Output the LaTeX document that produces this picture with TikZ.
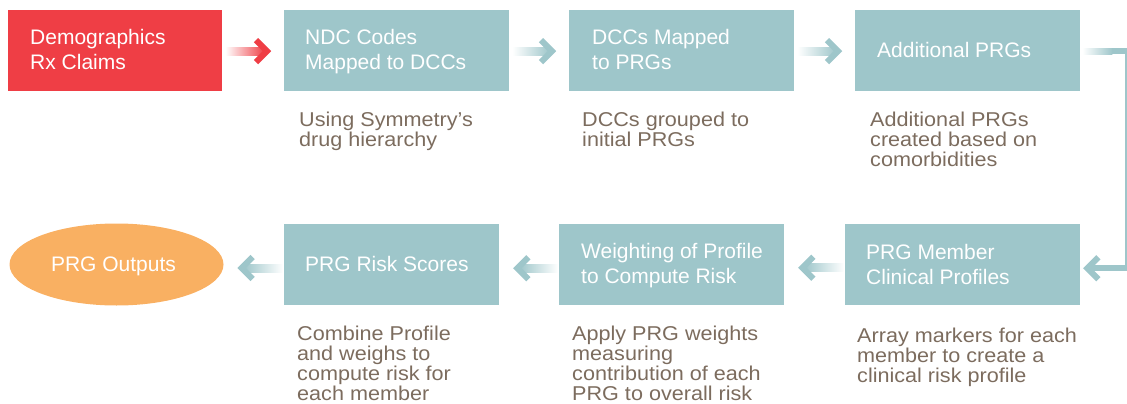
\documentclass[tikz,border=0pt]{standalone}
\usepackage{fontspec}
\setmainfont{Liberation Sans}
\newfontfamily\descfont[FakeStretch=1.08]{Liberation Sans}
\usetikzlibrary{shapes.geometric,calc}

\definecolor{cRed}{HTML}{EF3E45}
\definecolor{cTeal}{HTML}{9EC6CA}
\definecolor{cOrange}{HTML}{F9B062}
\definecolor{cText}{HTML}{7C6C5E}

% right-pointing arrow: faded shaft and open chevron head
\newcommand\rarrow[4]{% #1 from, #2 to, #3 colour, #4 vertical offset
  \coordinate (s) at ($(#1.east)+(3,#4)$);
  \coordinate (t) at ($(#2.west)+(-13,#4)$);
  \shade[left color=white, right color=#3] ($(s)+(0,-4)$) rectangle ($(t)+(-6,4)$);
  \draw[#3, line width=6pt, miter limit=10] ($(t)+(-15,-11)$) -- ($(t)+(-4,0)$) -- ($(t)+(-15,11)$);
}
% left-pointing arrow
\newcommand\larrow[4]{% #1 from, #2 to, #3 colour, #4 vertical offset
  \coordinate (s) at ($(#1.west)+(-1,#4)$);
  \coordinate (t) at ($(#2.east)+(14,#4)$);
  \shade[left color=#3, right color=white] ($(t)+(6,-4)$) rectangle ($(s)+(0,4)$);
  \draw[#3, line width=6pt, miter limit=10] ($(t)+(15,-11)$) -- ($(t)+(4,0)$) -- ($(t)+(15,11)$);
}

\begin{document}
\begin{tikzpicture}[x=1pt,y=-1pt,
  stepbox/.style={fill=cTeal, inner sep=0pt, minimum height=81pt, anchor=north west},
  % captions are placed by the baseline of their last line
  boxtxt/.style={anchor=base west, align=left, inner sep=0pt, text=white,
    font=\fontsize{21}{25}\selectfont},
  desc/.style={anchor=base west, align=left, inner sep=0pt, text=cText,
    font=\descfont\fontsize{20}{20}\selectfont}]
\useasboundingbox (0,0) rectangle (1127,404);

% top row
\node[stepbox, fill=cRed, minimum width=214pt] (red) at (8,10) {};
\node[stepbox, minimum width=225pt] (ndc) at (284,10) {};
\node[stepbox, minimum width=225pt] (dcc) at (569,10) {};
\node[stepbox, minimum width=225pt] (add) at (855,10) {};

% bottom row
\node[stepbox, minimum width=235pt] (mem) at (845,224) {};
\node[stepbox, minimum width=225pt] (wgt) at (559,224) {};
\node[stepbox, minimum width=215pt] (risk) at (284,224) {};
\node[ellipse, fill=cOrange, minimum width=214pt, minimum height=82pt, inner sep=0pt,
  text=white, text depth=0pt, font=\fontsize{21}{25}\selectfont] (out) at (116.5,264.5) {};
\node[text=white, inner sep=0pt, text depth=0pt, font=\fontsize{21}{25}\selectfont]
  (outt) at ($(out.center)+(-3,0)$) {PRG Outputs};

% box captions
\node[boxtxt] (redt) at ($(red.north west)+(22,60)$) {Demographics\\Rx Claims};
\node[boxtxt] (ndct) at ($(ndc.north west)+(21,60)$) {NDC Codes\\Mapped to DCCs};
\node[boxtxt] (dcct) at ($(dcc.north west)+(23,60)$) {DCCs Mapped\\to PRGs};
\node[boxtxt] (addt) at ($(add.north west)+(22,48)$) {Additional PRGs};
\node[boxtxt] (memt) at ($(mem.north west)+(21,60)$) {PRG Member\\Clinical Profiles};
\node[boxtxt] (wgtt) at ($(wgt.north west)+(22,59.5)$) {Weighting of Profile\\to Compute Risk};
\node[boxtxt] (riskt) at ($(risk.north west)+(21,47)$) {PRG Risk Scores};

% descriptions
\node[desc] (d1) at ($(ndc.south west)+(15,55)$) {Using Symmetry’s\\drug hierarchy};
\node[desc] (d2) at ($(dcc.south west)+(13,55)$) {DCCs grouped to\\initial PRGs};
\node[desc] (d3) at ($(add.south west)+(15,75)$) {Additional PRGs\\created based on\\comorbidities};
\node[desc] (d4) at ($(risk.south west)+(13,95.5)$) {Combine Profile\\and weighs to\\compute risk for\\each member};
\node[desc] (d5) at ($(wgt.south west)+(13,95.5)$) {Apply PRG weights\\measuring\\contribution of each\\PRG to overall risk};
\node[desc] (d6) at ($(mem.south west)+(12,77)$) {Array markers for each\\member to create a\\clinical risk profile};

% connectors
\rarrow{red}{ndc}{cRed}{0.5}
\rarrow{ndc}{dcc}{cTeal}{0.5}
\rarrow{dcc}{add}{cTeal}{0.5}
\larrow{mem}{wgt}{cTeal}{3}
\larrow{wgt}{risk}{cTeal}{3.5}
\larrow{risk}{out}{cTeal}{3.5}

% return connector from the top row down to the bottom row
\coordinate (ra) at ($(add.east)+(2,0.8)$);
\coordinate (rc) at ($(add.east)+(45.5,0.8)$);
\coordinate (rd) at ($(rc |- mem.east)+(0,3.5)$);
\coordinate (rt) at ($(mem.east)+(3,3.5)$);
\shade[left color=white, right color=cTeal] ($(ra)+(0,-3)$) rectangle ($(ra)+(30,3)$);
\fill[cTeal] ($(ra)+(30,-3)$) rectangle ($(rc)+(1.5,3)$);
\draw[cTeal, line width=1.8pt] (rc) -- (rd);
\fill[cTeal] ($(rd)+(1.5,-3)$) rectangle ($(rt)+(6,3)$);
\draw[cTeal, line width=6pt, miter limit=10] ($(rt)+(15,-11)$) -- ($(rt)+(4,0)$) -- ($(rt)+(15,11)$);
\end{tikzpicture}
\end{document}
